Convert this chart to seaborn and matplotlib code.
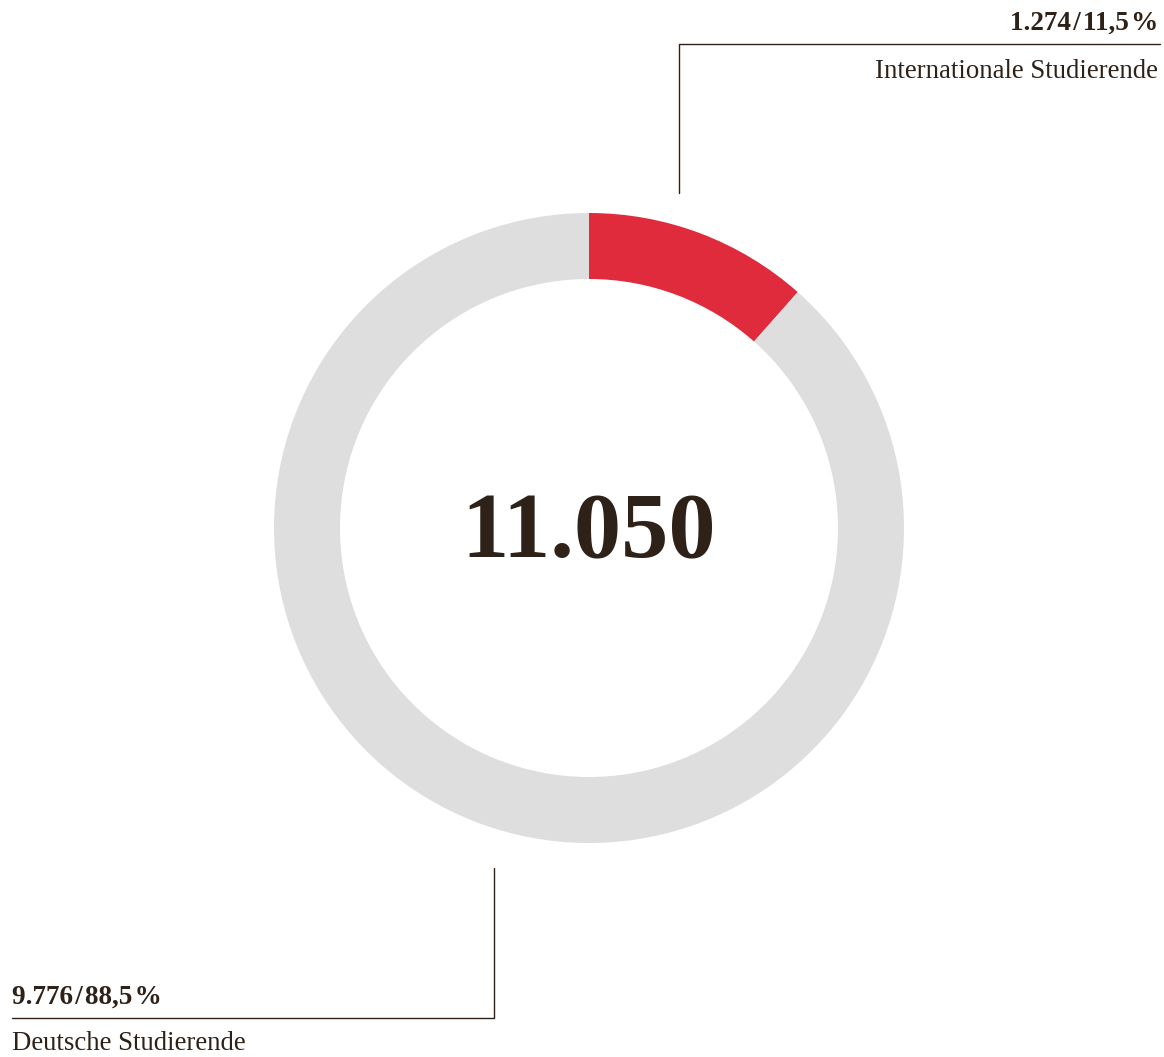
import matplotlib
matplotlib.use("Agg")
import matplotlib.pyplot as plt
import seaborn as sns

# data
groups = ["Internationale Studierende", "Deutsche Studierende"]
counts = [1274, 9776]
shares = ["11,5", "88,5"]
total_label = "11.050"
colors = ["#E02B3C", "#DEDEDE"]

sns.set_theme(style="white")
plt.rcParams['font.family'] = ['Liberation Serif', 'DejaVu Serif']

W, H = 1164, 1057
ink = "#2E2117"

fig = plt.figure(figsize=(W / 100, H / 100), dpi=100)
ax = fig.add_axes([0, 0, 1, 1])
ax.set_xlim(0, W)
ax.set_ylim(0, H)
ax.set_aspect("equal")
ax.axis("off")

# donut, centre/radius in pixel-like units (y measured from bottom)
cx, cy, r = 589, H - 528, 315
ax.pie(counts, colors=colors, startangle=90, counterclock=False,
       center=(cx, cy), radius=r, wedgeprops=dict(width=66, linewidth=0))
ax.set_xlim(0, W)
ax.set_ylim(0, H)

ax.text(cx, cy + 3, total_label, ha="center", va="center_baseline",
        fontsize=68, fontweight="bold", color=ink)

def fmt(n):
    return f"{n:,}".replace(",", ".")

sep = "\u200a/\u200a"
pct = "\u200a%"

# top label (international)
ax.plot([679, 679, 1160], [H - 193, H - 44, H - 44], color=ink, lw=1)
ax.text(1158, H - 30, f"{fmt(counts[0])}{sep}{shares[0]}{pct}",
        ha="right", va="baseline", fontsize=19.5, fontweight="bold", color=ink)
ax.text(1158, H - 78, groups[0], ha="right", va="baseline",
        fontsize=19.3, color=ink)

# bottom label (german)
ax.plot([494, 494, 12], [H - 868, H - 1018, H - 1018], color=ink, lw=1)
ax.text(12, H - 1004, f"{fmt(counts[1])}{sep}{shares[1]}{pct}",
        ha="left", va="baseline", fontsize=19.5, fontweight="bold", color=ink)
ax.text(12, H - 1050, groups[1], ha="left", va="baseline",
        fontsize=19.3, color=ink)

fig.savefig("out.png", dpi=100)
